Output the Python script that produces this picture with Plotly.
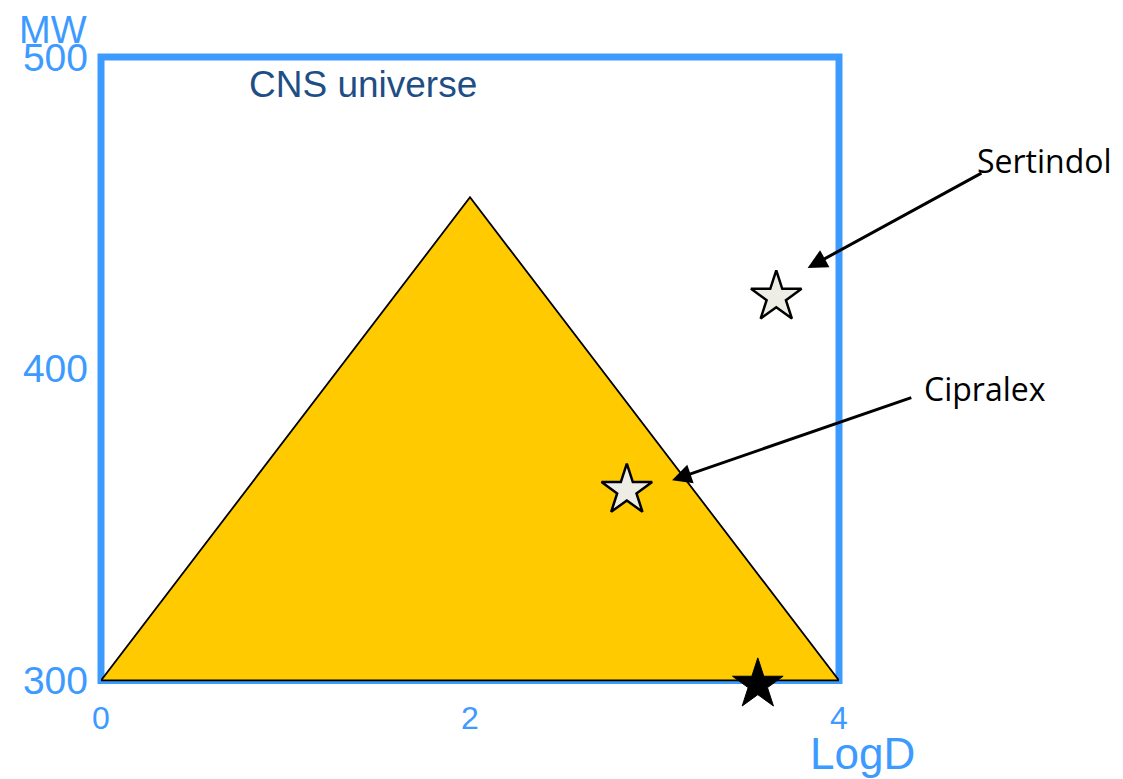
import plotly.graph_objects as go

# Data
triangle_logd = [0, 2, 4, 0]
triangle_mw = [300, 455, 300, 300]

drug_names = ['Sertindol', 'Cipralex']
drug_logd = [3.66, 2.85]
drug_mw = [423, 361]

ref_logd = [3.56]
ref_mw = [298.7]

x_ticks = [0, 2, 4]
y_ticks = [300, 400, 500]

Y_MIN, Y_MAX = 295, 500

BLUE = '#3D9BFF'
NAVY = '#1F4E86'

fig = go.Figure()

# CNS universe frame (LogD 0-4, MW 300-500), paper refs so the line isn't clipped
fig.add_shape(type='rect', xref='paper', yref='paper',
              x0=0, x1=1, y0=(300 - Y_MIN) / (Y_MAX - Y_MIN), y1=1,
              line=dict(color=BLUE, width=7), layer='below')

fig.add_trace(go.Scatter(
    x=triangle_logd, y=triangle_mw,
    mode='lines', fill='toself', fillcolor='#FFCA00',
    line=dict(color='black', width=1.8),
    cliponaxis=False, hoverinfo='skip', showlegend=False
))

fig.add_trace(go.Scatter(
    x=drug_logd, y=drug_mw, text=drug_names,
    mode='markers',
    marker=dict(symbol='star', size=38, color='#EDEDE5',
                line=dict(color='black', width=2.5)),
    cliponaxis=False, showlegend=False
))

fig.add_trace(go.Scatter(
    x=ref_logd, y=ref_mw,
    mode='markers',
    marker=dict(symbol='star', size=38, color='black',
                line=dict(color='black', width=1)),
    cliponaxis=False, showlegend=False
))

# Arrows with labels
arrows = [
    # (text, text_x, text_y (paper), head_x, head_y, tail_x, tail_y (data))
    ('Sertindol', 1.279, 0.8387, 3.83, 432.3, 4.78, 463),
    ('Cipralex', 1.198, 0.4817, 3.095, 364.2, 4.40, 390.9),
]
for name, tx, ty, hx, hy, ax, ay in arrows:
    fig.add_annotation(
        x=hx, y=hy, ax=ax, ay=ay, axref='x', ayref='y',
        text='', showarrow=True, arrowhead=2, arrowsize=1.3,
        arrowwidth=3, arrowcolor='black'
    )
    fig.add_annotation(
        x=tx, y=ty, xref='paper', yref='paper', text=name, showarrow=False,
        xanchor='center', yanchor='middle',
        font=dict(family='Open Sans, sans-serif', size=32, color='black')
    )

fig.add_annotation(x=-0.1138, y=1.0423, xref='paper', yref='paper',
                   text='MW', showarrow=False, xanchor='left', yanchor='middle',
                   font=dict(size=38, color=BLUE))
fig.add_annotation(x=1.0325, y=-0.09, xref='paper', yref='paper',
                   text='LogD', showarrow=False, xanchor='center', yanchor='middle',
                   font=dict(size=44, color=BLUE))
fig.add_annotation(x=0.1978, y=0.9562, xref='paper', yref='paper',
                   text='CNS universe', showarrow=False, xanchor='left', yanchor='middle',
                   font=dict(size=37, color=NAVY))

fig.update_xaxes(range=[0, 4], tickvals=x_ticks, showgrid=False, zeroline=False,
                 showline=False, tickfont=dict(size=32, color=BLUE),
                 ticklabelstandoff=0)
fig.update_yaxes(range=[Y_MIN, Y_MAX], tickvals=y_ticks, showgrid=False, zeroline=False,
                 showline=False, tickfont=dict(size=39, color=BLUE),
                 ticklabelstandoff=12)

fig.update_layout(
    width=1123, height=779,
    margin=dict(l=93, r=292, t=49, b=91.4),
    plot_bgcolor='white', paper_bgcolor='white',
    font=dict(family='Liberation Sans, Arial, sans-serif'),
    showlegend=False
)

fig.write_html('out.html')
